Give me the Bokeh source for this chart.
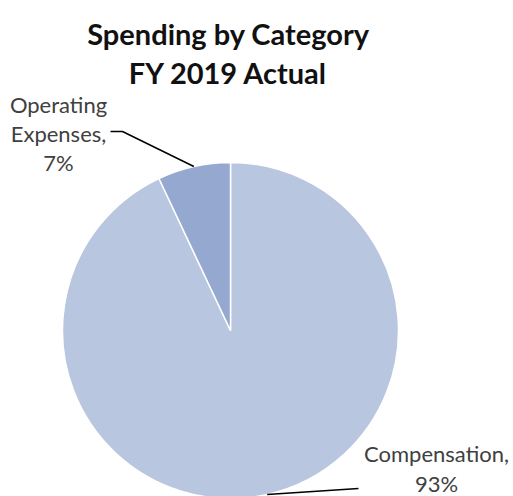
import math
from bokeh.plotting import figure
from bokeh.models import ColumnDataSource, Range1d
from bokeh.core.properties import value
from bokeh.embed import file_html
from bokeh.resources import INLINE

categories = ["Compensation", "Operating Expenses"]
shares = [93, 7]
colors = ["#B9C6E0", "#95A8CF"]
title_lines = ["Spending by Category", "FY 2019 Actual"]

W, H = 513, 496
p = figure(width=W, height=H, output_backend="svg", toolbar_location=None,
           x_range=Range1d(0, W), y_range=Range1d(0, H), min_border=0)
p.axis.visible = False
p.grid.visible = False
p.outline_line_color = None
p.background_fill_color = "white"
p.border_fill_color = "white"

def Y(y):
    return H - y

cx, cy, r = 230, Y(330), 168
total = sum(shares)
starts, ends = [], []
cum = 0.0
for s in shares:
    a0 = math.pi / 2 - 2 * math.pi * (cum + s) / total
    a1 = math.pi / 2 - 2 * math.pi * cum / total
    starts.append(a0)
    ends.append(a1)
    cum += s

src = ColumnDataSource(dict(cat=categories, start=starts, end=ends, color=colors))
p.wedge(x=cx, y=cy, radius=r, start_angle="start", end_angle="end",
        fill_color="color", line_color="white", line_width=1.5, source=src)

# title
for i, t in enumerate(title_lines):
    p.text(x=[228], y=[Y(33 + 39 * i)], text=[t], text_align="center",
           text_baseline="alphabetic", text_font=value("Lato"),
           text_font_style="bold", text_font_size="29px", text_color="#111111")

lab_font = dict(text_font=value("Lato"), text_font_size="22px",
                text_color="#404040", text_align="center", text_baseline="alphabetic")

# Operating Expenses label
op_lines = ["Operating", "Expenses,", f"{shares[1]}%"]
for i, t in enumerate(op_lines):
    p.text(x=[58], y=[Y(104 + 29 * i)], text=[t], **lab_font)
# leader for Operating: ends on pie edge at slice middle
a = (starts[1] + ends[1]) / 2
ex, ey = cx + r * math.cos(a), cy + r * math.sin(a)
p.line(x=[110, 122, ex], y=[Y(131), Y(131), ey], line_color="black", line_width=1.5)

# Compensation label
co_lines = ["Compensation,", f"{shares[0]}%"]
for i, t in enumerate(co_lines):
    p.text(x=[436], y=[Y(453 + 30 * i)], text=[t], **lab_font)
a2 = -math.pi / 2 + 0.22
ex2, ey2 = cx + r * math.cos(a2), cy + r * math.sin(a2)
p.line(x=[ex2, 358], y=[ey2, Y(488)], line_color="black", line_width=1.5)

open("out.html", "w").write(file_html(p, INLINE))
